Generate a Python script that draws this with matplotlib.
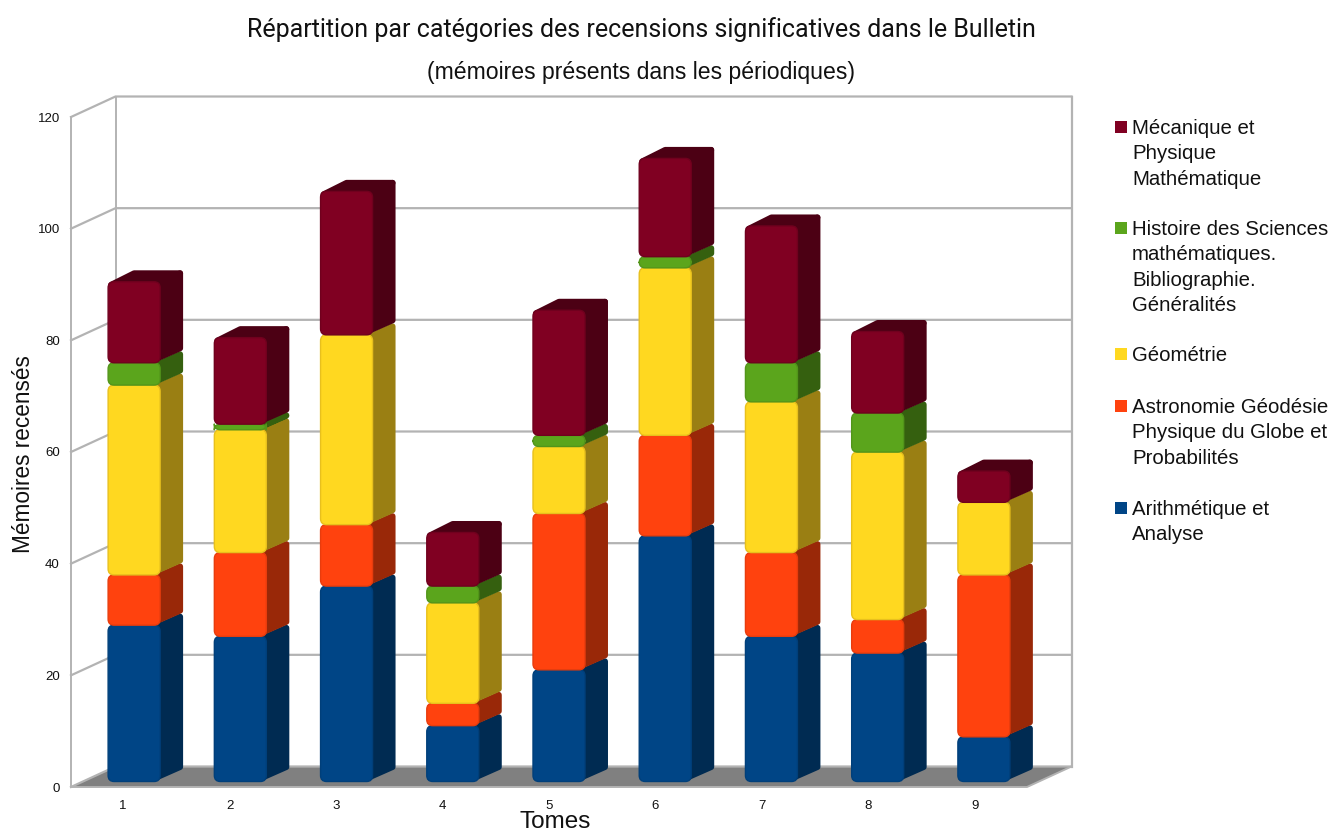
import matplotlib
matplotlib.use('Agg')
import matplotlib.pyplot as plt
from matplotlib.patches import FancyBboxPatch, Polygon, Rectangle

TOMES = ['1', '2', '3', '4', '5', '6', '7', '8', '9']
ARITHMETIQUE = [28, 26, 35, 10, 20, 44, 26, 23, 8]
ASTRONOMIE = [9, 15, 11, 4, 28, 18, 15, 6, 29]
GEOMETRIE = [34, 22, 34, 18, 12, 30, 27, 30, 13]
HISTOIRE = [4, 1, 0, 3, 2, 2, 7, 7, 0]
MECANIQUE = [14.5, 15.5, 25.7, 9.6, 22.4, 17.6, 24.5, 14.6, 5.6]

SERIES = [ARITHMETIQUE, ASTRONOMIE, GEOMETRIE, HISTOIRE, MECANIQUE]
COLORS = ['#004586', '#ff420e', '#ffd820', '#5ba51c', '#800022']
SIDE_COLORS = ['#002b52', '#992808', '#9a7f13', '#35600f', '#4c0014']
RIM_COLORS = ['#003f7a', '#e83c0d', '#e8c01d', '#52951a', '#70001e']

LEGEND_LABELS = [
    'Mécanique et\nPhysique\nMathématique',
    'Histoire des Sciences\nmathématiques.\nBibliographie.\nGénéralités',
    'Géométrie',
    'Astronomie Géodésie\nPhysique du Globe et\nProbabilités',
    'Arithmétique et\nAnalyse',
]
LEGEND_COLORS = COLORS[::-1]
LEGEND_Y = [127, 228, 354, 406, 508]

W, H = 1333, 833
LEFT, RIGHT, BOTTOM, TOP = 71, 1027, 787, 117
PX_X = (RIGHT - LEFT) / 9
PX_Y = (BOTTOM - TOP) / 120

# oblique offsets of the fake 3D, in data units
WALL_DX, WALL_DY = 44.5 / PX_X, 20.5 / PX_Y
BAR_OFF_Y = 6.5 / PX_Y
BAR_DX, BAR_DY = 23 / PX_X, 11.5 / PX_Y
BAR_W = 52 / PX_X

plt.rcParams['font.family'] = ['Liberation Sans', 'DejaVu Sans']

fig = plt.figure(figsize=(W / 100, H / 100), dpi=100, facecolor='white')
ax = fig.add_axes([LEFT / W, 1 - BOTTOM / H, (RIGHT - LEFT) / W, (BOTTOM - TOP) / H])
ax.set_xlim(0.5, 9.5)
ax.set_ylim(0, 120)
ax.patch.set_visible(False)
for spine in ax.spines.values():
    spine.set_visible(False)

ax.set_xticks([0.99 + i * 1.0025 for i in range(9)], TOMES)
ax.set_yticks(range(0, 121, 20))
ax.tick_params(axis='both', length=0, labelsize=9.5, colors='#111111')
ax.tick_params(axis='x', pad=9.5)
ax.tick_params(axis='y', pad=8)

GRID = '#b3b3b3'
x0, x1 = 0.5, 9.5
ax.add_patch(Polygon([(x0, 0), (x1, 0), (x1 + WALL_DX, WALL_DY), (x0 + WALL_DX, WALL_DY)],
                     facecolor='#808080', edgecolor='none', clip_on=False, zorder=1))
for v in range(0, 121, 20):
    ax.plot([x0, x0 + WALL_DX, x1 + WALL_DX], [v, v + WALL_DY, v + WALL_DY],
            color=GRID, lw=1.6, clip_on=False, zorder=1.5, solid_joinstyle='miter')
ax.plot([x0, x0], [0, 120], color=GRID, lw=1.4, clip_on=False, zorder=1.5)
ax.plot([x0 + WALL_DX, x0 + WALL_DX], [WALL_DY, 120 + WALL_DY], color=GRID, lw=1.4, clip_on=False, zorder=1.5)
ax.plot([x1 + WALL_DX, x1 + WALL_DX], [WALL_DY, 120 + WALL_DY], color=GRID, lw=1.6, clip_on=False, zorder=1.5)
ax.plot([x0, x1, x1 + WALL_DX], [0, 0, WALL_DY], color=GRID, lw=1.4, clip_on=False, zorder=1.5)

ins_x, ins_y = 3 / PX_X, 3 / PX_Y
z = 2.0
for i in range(9):
    left = i + 1 - 0.5 + (PX_X / 2 - 26 + 10) / PX_X
    right = left + BAR_W
    base = BAR_OFF_Y - 1.0 / PX_Y
    n_top = max(s for s in range(5) if SERIES[s][i] > 0)
    for s in range(5):
        val = SERIES[s][i]
        if val == 0:
            continue
        y_lo, y_hi = base, base + val
        side = [(right - 6 / PX_X, y_lo + ins_y), (right + BAR_DX - ins_x, y_lo + BAR_DY + ins_y),
                (right + BAR_DX - ins_x, y_hi + BAR_DY - ins_y), (right - 6 / PX_X, y_hi - ins_y)]
        ax.add_patch(Polygon(side, facecolor=SIDE_COLORS[s], edgecolor=SIDE_COLORS[s], lw=4.3,
                             joinstyle='round', clip_on=False, zorder=z))
        z += 0.01
        if s == n_top:
            top = [(left + ins_x, y_hi - ins_y), (left + BAR_DX + ins_x, y_hi + BAR_DY - ins_y),
                   (right + BAR_DX - ins_x, y_hi + BAR_DY - ins_y), (right - ins_x, y_hi - ins_y)]
            ax.add_patch(Polygon(top, facecolor=SIDE_COLORS[s], edgecolor=SIDE_COLORS[s], lw=4.3,
                                 joinstyle='round', clip_on=False, zorder=z))
            z += 0.01
        ax.add_patch(FancyBboxPatch((left, y_lo), BAR_W, val,
                                    boxstyle='round,pad=0,rounding_size=%.4f' % (6 / PX_X),
                                    mutation_aspect=PX_X / PX_Y, facecolor=COLORS[s],
                                    edgecolor=RIM_COLORS[s], lw=1.0, clip_on=False, zorder=z))
        z += 0.01
        base = y_hi

ax.set_xlabel('Tomes', fontsize=17.5, color='#111111', va='center')
ax.xaxis.set_label_coords((555 - LEFT) / (RIGHT - LEFT), -(822 - BOTTOM) / (BOTTOM - TOP))
ax.set_ylabel('Mémoires recensés', fontsize=16.3, color='#111111', va='center')
ax.yaxis.set_label_coords((24 - LEFT) / (RIGHT - LEFT), (BOTTOM - 454) / (BOTTOM - TOP))

fig.text(641 / W, 1 - 30 / H, 'Répartition par catégories des recensions significatives dans le Bulletin',
         family=['Roboto', 'Liberation Sans'], fontsize=18, ha='center', va='center', color='#111111')
fig.text(641 / W, 1 - 72 / H, '(mémoires présents dans les périodiques)',
         fontsize=16.6, ha='center', va='center', color='#111111')

for label, color, y in zip(LEGEND_LABELS, LEGEND_COLORS, LEGEND_Y):
    fig.patches.append(Rectangle((1115 / W, 1 - (y + 6) / H), 12 / W, 12 / H, transform=fig.transFigure,
                                 facecolor=color, edgecolor='none'))
    fig.text(1132 / W, 1 - (y - 8) / H, label, fontsize=14.7, linespacing=1.42, ha='left', va='top', color='#111111')

fig.savefig('out.png', dpi=100, facecolor='white')
